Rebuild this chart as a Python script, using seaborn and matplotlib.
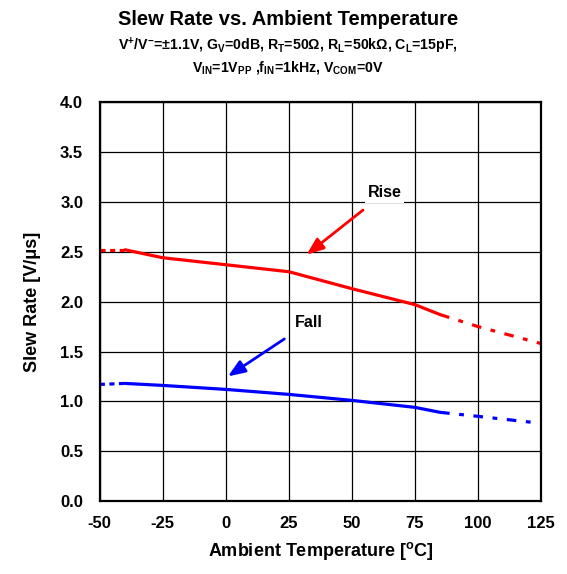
import matplotlib
matplotlib.use("Agg")
import matplotlib.pyplot as plt
import seaborn as sns
import pandas as pd

sns.set_style("white")
plt.rcParams["font.family"] = ["Liberation Sans", "DejaVu Sans"]
plt.rcParams["mathtext.fontset"] = "custom"
plt.rcParams["mathtext.rm"] = "Liberation Sans:bold"
plt.rcParams["mathtext.bf"] = "Liberation Sans:bold"
plt.rcParams["mathtext.it"] = "Liberation Sans:bold"
plt.rcParams["mathtext.default"] = "bf"
plt.rcParams["text.color"] = "black"
plt.rcParams["axes.labelcolor"] = "black"
plt.rcParams["xtick.color"] = "black"
plt.rcParams["ytick.color"] = "black"

# Ambient temperature [°C] and slew rate [V/us]
temps = [-50, -40, -25, 0, 25, 50, 75, 85, 100, 125]
rise = [2.52, 2.52, 2.44, 2.37, 2.30, 2.13, 1.97, 1.87, 1.75, 1.58]
fall = [1.17, 1.18, 1.16, 1.12, 1.07, 1.01, 0.94, 0.89, 0.85, 0.78]

x_ticks = [-50, -25, 0, 25, 50, 75, 100, 125]
y_ticks = [0.0, 0.5, 1.0, 1.5, 2.0, 2.5, 3.0, 3.5, 4.0]

df = pd.DataFrame({"temp": temps, "Rise": rise, "Fall": fall})

fig = plt.figure(figsize=(5.67, 5.74), dpi=100)
ax = fig.add_axes([0.176, 0.127, 0.778, 0.695])

# guaranteed range is solid; extrapolated ends are dotted / dash-dot
segments = [
    (df[df.temp <= -40], (0, (1.6, 1.4))),
    (df[(df.temp >= -40) & (df.temp <= 85)], "-"),
    (df[df.temp >= 85], (0, (3, 3, 1.5, 3))),
]
for col, color in [("Rise", "#ff0000"), ("Fall", "#0000ff")]:
    for seg, ls in segments:
        sns.lineplot(data=seg, x="temp", y=col, ax=ax, color=color,
                     linewidth=2.3, linestyle=ls, legend=False)

ax.set_xlim(-50, 125)
ax.set_ylim(0, 4.0)
ax.set_xticks(x_ticks)
ax.set_yticks(y_ticks)
ax.set_xticklabels([str(t) for t in x_ticks], fontsize=12, fontweight="bold")
ax.set_yticklabels([f"{t:.1f}" for t in y_ticks], fontsize=12, fontweight="bold")
ax.grid(True, color="black", linewidth=0.9)
for s in ax.spines.values():
    s.set_color("black")
    s.set_linewidth(1.6)
ax.tick_params(axis="x", length=0, pad=11)
ax.tick_params(axis="y", length=0, pad=12)

ax.set_xlabel("Ambient Temperature [$^{o}$C]", fontsize=13, fontweight="bold", labelpad=6)
ax.set_ylabel("Slew Rate [V/μs]", fontsize=13, fontweight="bold", labelpad=14)

fig.text(0.508, 0.966, "Slew Rate vs. Ambient Temperature", ha="center",
         va="center", fontsize=14.5, fontweight="bold")
fig.text(0.508, 0.920,
         "V$^{+}$/V$^{-}$=±1.1V, G$_{V}$=0dB, R$_{T}$=50Ω, R$_{L}$=50kΩ, C$_{L}$=15pF,",
         ha="center", va="center", fontsize=10.2, fontweight="bold")
fig.text(0.508, 0.882,
         "V$_{IN}$=1V$_{PP}$ ,f$_{IN}$=1kHz, V$_{COM}$=0V",
         ha="center", va="center", fontsize=10.2, fontweight="bold")

bbox = dict(facecolor="white", edgecolor="none", pad=2)
ax.annotate("Rise", xy=(32, 2.47), xytext=(63, 3.09), ha="center", va="center",
            fontsize=11.5, fontweight="bold", bbox=bbox,
            arrowprops=dict(arrowstyle="-|>,head_length=0.9,head_width=0.35",
                            color="#ff0000", lw=2, shrinkA=8, shrinkB=0))
ax.annotate("Fall", xy=(0.8, 1.25), xytext=(33, 1.79), ha="center", va="center",
            fontsize=11.5, fontweight="bold", bbox=bbox,
            arrowprops=dict(arrowstyle="-|>,head_length=0.9,head_width=0.35",
                            color="#0000ff", lw=2, shrinkA=8, shrinkB=0))

fig.savefig("out.png", dpi=100, facecolor="white")
